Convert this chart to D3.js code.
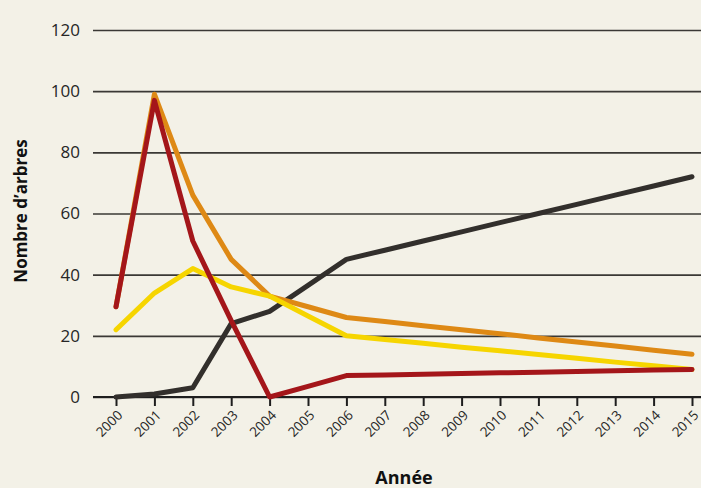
<!DOCTYPE html>
<html>
<head>
<meta charset="utf-8">
<script src="https://cdn.jsdelivr.net/npm/d3@7"></script>
<style>
  html, body { margin: 0; padding: 0; background: #f3f1e7; }
  svg { display: block; }
</style>
</head>
<body>
<svg id="chart" width="701" height="488"></svg>
<script>
// Years on the x axis
const years = [2000, 2001, 2002, 2003, 2004, 2005, 2006, 2007, 2008, 2009, 2010, 2011, 2012, 2013, 2014, 2015];
const yTicks = [0, 20, 40, 60, 80, 100, 120];

// Tree counts per series
const seriesDark   = [0, 1, 3, 24, 28, 36.5, 45, 48, 51, 54, 57, 60, 63, 66, 69, 72];
const seriesOrange = [29.5, 99, 66, 45, 33, 29.5, 26, 24.7, 23.3, 22, 20.7, 19.3, 18, 16.7, 15.3, 14];
const seriesYellow = [22, 34, 42, 36, 33, 26.5, 20, 18.8, 17.6, 16.3, 15.1, 13.9, 12.7, 11.4, 10.2, 9];
const seriesRed    = [29.5, 97, 51, 25, 0, 3.5, 7, 7.2, 7.4, 7.7, 7.9, 8.1, 8.3, 8.6, 8.8, 9];

const colors = { dark: "#322f2c", orange: "#de8915", yellow: "#f6d500", red: "#a4161a" };

const svg = d3.select("#chart");
const W = 701;
const margin = { left: 93 };

const x = d3.scaleLinear().domain([2000, 2015]).range([116, 692]);
const y = d3.scaleLinear().domain([0, 120]).range([397, 30]);

// Horizontal gridlines with labels
const yAxis = d3.axisLeft(y).tickValues(yTicks).tickSize(-(W - margin.left)).tickPadding(13).tickFormat(d3.format("d"));
const gy = svg.append("g").attr("transform", `translate(${margin.left},0)`).call(yAxis);
gy.select(".domain").remove();
gy.selectAll(".tick line").attr("stroke", "#3a3835").attr("stroke-width", 1.6);
gy.selectAll(".tick text")
  .attr("fill", "#262626")
  .style("font-family", "'Open Sans', sans-serif")
  .style("font-weight", 400)
  .style("font-size", "17px");

// Baseline with year ticks
svg.append("line")
  .attr("x1", margin.left).attr("x2", W)
  .attr("y1", y(0)).attr("y2", y(0))
  .attr("stroke", "#1e1e1e").attr("stroke-width", 2);

const xAxis = d3.axisBottom(x).tickValues(years).tickSize(9).tickFormat(d3.format("d"));
const gx = svg.append("g").attr("transform", `translate(0,${y(0)})`).call(xAxis);
gx.select(".domain").remove();
gx.selectAll(".tick line").attr("stroke", "#1e1e1e").attr("stroke-width", 2);
gx.selectAll(".tick text")
  .attr("fill", "#262626")
  .style("font-family", "'Open Sans', sans-serif")
  .style("font-weight", 400)
  .style("font-size", "13.5px")
  .attr("text-anchor", "end")
  .attr("dy", null)
  .attr("y", 0)
  .attr("transform", "translate(7,19) rotate(-45)");

// Series lines
const line = d3.line()
  .defined(d => d != null)
  .x((d, i) => x(years[i]))
  .y(d => y(d));

const drawOrder = [
  [seriesDark, colors.dark],
  [seriesOrange, colors.orange],
  [seriesYellow, colors.yellow],
  [seriesRed, colors.red]
];
drawOrder.forEach(([vals, c]) => {
  svg.append("path")
    .datum(vals)
    .attr("d", line)
    .attr("fill", "none")
    .attr("stroke", c)
    .attr("stroke-width", 5)
    .attr("stroke-linejoin", "round")
    .attr("stroke-linecap", "round");
});

// Axis titles
svg.append("text")
  .attr("transform", `translate(27,${211}) rotate(-90)`)
  .attr("text-anchor", "middle")
  .attr("fill", "#111")
  .style("font-family", "'Open Sans', sans-serif")
  .style("font-weight", 700)
  .style("font-size", "17px")
  .text("Nombre d\u2019arbres");

svg.append("text")
  .attr("x", 404).attr("y", 484)
  .attr("text-anchor", "middle")
  .attr("fill", "#111")
  .style("font-family", "'Open Sans', sans-serif")
  .style("font-weight", 700)
  .style("font-size", "18px")
  .text("Année");
</script>
</body>
</html>
